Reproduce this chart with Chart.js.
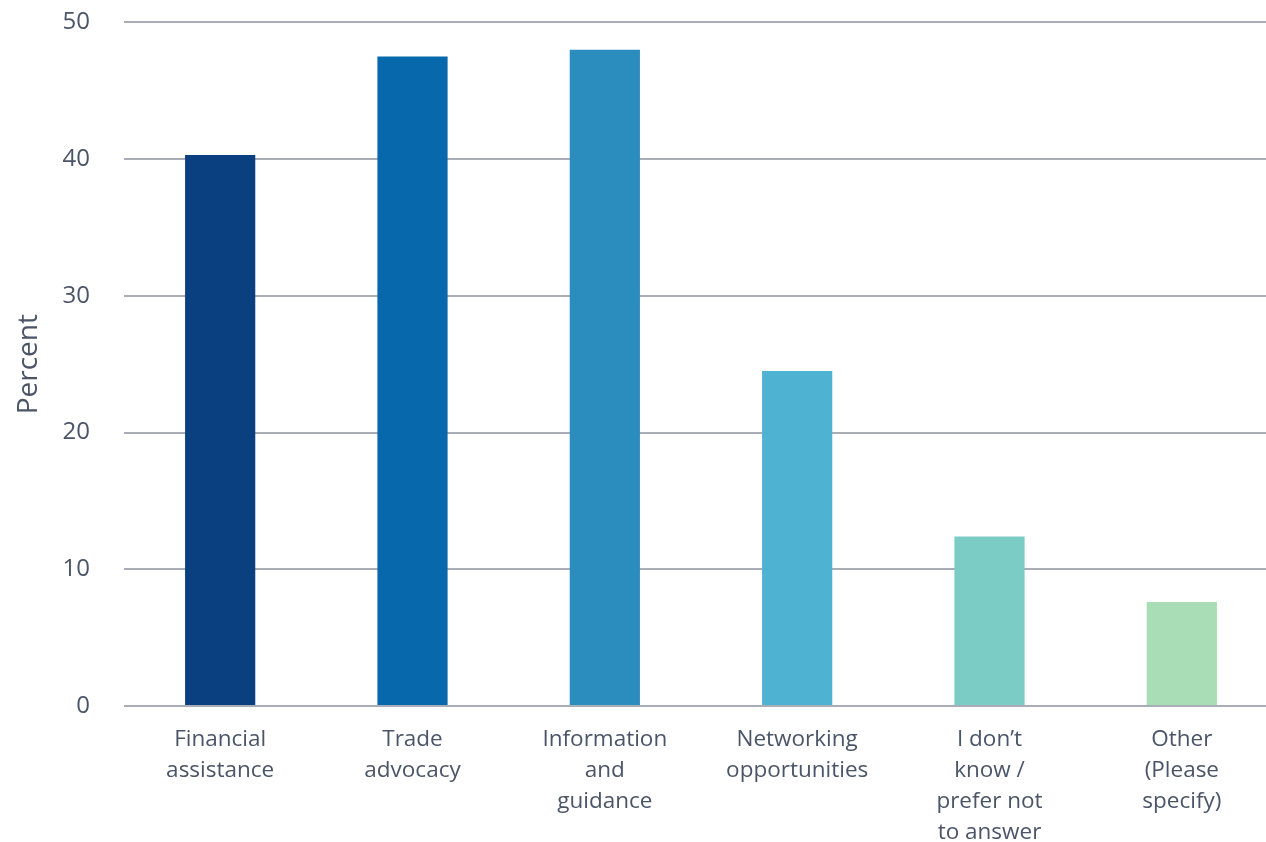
<!DOCTYPE html>
<html>
<head>
<meta charset="utf-8">
<script src="https://cdn.jsdelivr.net/npm/chart.js@4/dist/chart.umd.min.js"></script>
<style>
  html, body { margin: 0; padding: 0; background: #ffffff; overflow: hidden; width: 1266px; height: 842px; }
  #wrap { position: absolute; left: 0; top: -26px; width: 1280px; height: 868px; }
</style>
</head>
<body>
<div id="wrap"><canvas id="chart" width="1280" height="868"></canvas></div>
<script>
// Categories (multi-line labels) and share of respondents, in percent
const categories = [
  ['Financial', 'assistance'],
  ['Trade', 'advocacy'],
  ['Information', 'and', 'guidance'],
  ['Networking', 'opportunities'],
  ['I don\u2019t', 'know /', 'prefer not', 'to answer'],
  ['Other', '(Please', 'specify)']
];
const percentValues = [40.3, 47.5, 48.0, 24.5, 12.4, 7.6];
const barColors = ['#0a4080', '#0868ac', '#2b8cbe', '#4eb3d3', '#7bccc4', '#a8ddb5'];
const yTicks = [0, 10, 20, 30, 40, 50];

const textColor = '#4a5568';
const gridColor = '#a9adb8';
const fontFamily = '"Open Sans", "Noto Sans", sans-serif';

new Chart(document.getElementById('chart'), {
  type: 'bar',
  data: {
    labels: categories,
    datasets: [{
      data: percentValues,
      backgroundColor: barColors,
      borderWidth: 0,
      barPercentage: 1,
      categoryPercentage: 0.365
    }]
  },
  options: {
    responsive: false,
    devicePixelRatio: 1,
    animation: false,
    layout: { padding: { top: 0, right: 2, left: 12, bottom: 0 } },
    plugins: { legend: { display: false }, tooltip: { enabled: false } },
    scales: {
      x: {
        afterFit: (scale) => { scale.height = 136; },
        grid: { display: false, drawTicks: false },
        border: { display: false },
        ticks: {
          color: textColor,
          font: { family: fontFamily, size: 22.5, lineHeight: 1.38 },
          padding: 18,
          maxRotation: 0,
          autoSkip: false
        }
      },
      y: {
        min: 0,
        max: 50,
        afterBuildTicks: (axis) => { axis.ticks = yTicks.map(v => ({ value: v })); },
        afterFit: (scale) => { scale.width = 112; },
        grid: { color: gridColor, lineWidth: 2, drawTicks: false },
        border: { display: false },
        ticks: {
          color: textColor,
          font: { family: fontFamily, size: 24 },
          padding: 34
        },
        title: {
          display: true,
          text: 'Percent',
          color: textColor,
          font: { family: fontFamily, size: 28 },
          padding: 0
        }
      }
    }
  }
});
</script>
</body>
</html>
